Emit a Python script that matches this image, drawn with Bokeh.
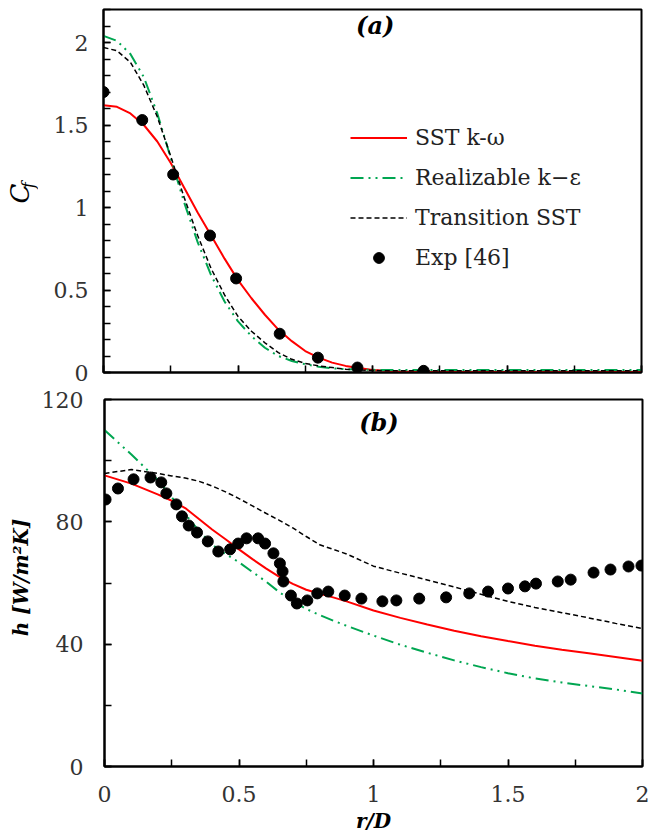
import math
from bokeh.plotting import figure
from bokeh.layouts import column, row
from bokeh.models import Range1d, SingleIntervalTicker, Label, Legend
from bokeh.core.properties import value
from bokeh.embed import file_html
from bokeh.resources import INLINE

# ---------------- data: (a) skin friction ----------------
cf_x = [0, 0.05, 0.1, 0.15, 0.2, 0.25, 0.3, 0.35, 0.4, 0.45, 0.5, 0.55, 0.6,
        0.65, 0.7, 0.75, 0.8, 0.85, 0.9, 1.0, 1.1, 1.2, 1.4, 1.6, 1.8, 2.0]
cf_sst = [1.62, 1.61, 1.57, 1.50, 1.40, 1.27, 1.12, 0.97, 0.83, 0.69, 0.56, 0.45, 0.35,
          0.26, 0.19, 0.13, 0.09, 0.06, 0.04, 0.015, 0.006, 0.003, 0.003, 0.003, 0.003, 0.003]
cf_rke = [2.04, 2.01, 1.93, 1.79, 1.57, 1.30, 1.03, 0.79, 0.59, 0.43, 0.31, 0.22, 0.15,
          0.10, 0.07, 0.05, 0.035, 0.026, 0.02, 0.016, 0.015, 0.015, 0.015, 0.015, 0.015, 0.015]
cf_tsst = [1.97, 1.95, 1.88, 1.74, 1.55, 1.31, 1.06, 0.83, 0.63, 0.47, 0.34, 0.25, 0.18,
           0.12, 0.08, 0.055, 0.04, 0.03, 0.02, 0.012, 0.01, 0.01, 0.01, 0.01, 0.01, 0.01]
cf_exp_x = [0.0, 0.144, 0.259, 0.396, 0.493, 0.655, 0.797, 0.944, 1.19]
cf_exp = [1.70, 1.53, 1.20, 0.83, 0.57, 0.235, 0.09, 0.03, 0.01]

# ---------------- data: (b) heat transfer coefficient ----------------
h_x = [0, 0.1, 0.2, 0.25, 0.3, 0.35, 0.4, 0.45, 0.5, 0.55, 0.6, 0.65, 0.7, 0.75,
       0.8, 0.85, 0.9, 1.0, 1.1, 1.2, 1.3, 1.4, 1.5, 1.6, 1.7, 1.8, 1.9, 2.0]
h_sst = [95.2, 92.5, 88.9, 86.9, 84.5, 81.0, 77.5, 74.3, 71.0, 67.8, 64.8, 62.0, 59.7, 57.8,
         56.5, 55.3, 54.0, 51.0, 48.6, 46.4, 44.4, 42.6, 41.0, 39.5, 38.2, 37.0, 35.8, 34.6]
h_rke = [110.0, 102.0, 93.5, 88.0, 82.5, 77.2, 72.5, 69.5, 66.8, 63.6, 60.5, 57.0, 54.0, 51.5,
         49.5, 47.7, 46.0, 42.8, 39.8, 37.2, 34.7, 32.5, 30.5, 28.8, 27.5, 26.3, 25.2, 23.9]
h_tsst = [95.8, 97.1, 95.8, 95.0, 94.3, 93.3, 91.7, 89.8, 87.6, 85.2, 82.8, 80.5, 78.0, 75.2,
          72.5, 71.0, 69.5, 65.5, 63.2, 61.0, 58.7, 56.3, 54.0, 52.0, 50.3, 48.6, 46.8, 45.1]
h_exp_x = [0.004, 0.05, 0.108, 0.171, 0.211, 0.23, 0.267, 0.288, 0.313, 0.344, 0.384, 0.423,
           0.467, 0.497, 0.528, 0.571, 0.597, 0.628, 0.652, 0.662, 0.665, 0.693, 0.715, 0.754,
           0.791, 0.832, 0.893, 0.955, 1.033, 1.085, 1.17, 1.27, 1.356, 1.426, 1.5, 1.563,
           1.604, 1.685, 1.733, 1.818, 1.881, 1.948, 1.996]
h_exp = [87.3, 90.9, 93.9, 94.5, 92.9, 89.3, 85.7, 81.8, 78.8, 76.5, 73.6, 70.3,
         71.0, 72.9, 74.6, 74.6, 72.9, 69.7, 66.4, 63.8, 60.5, 55.9, 53.3, 54.3,
         56.6, 57.2, 55.9, 54.9, 54.0, 54.3, 54.9, 55.3, 56.6, 57.2, 58.2, 58.9,
         59.8, 60.5, 61.1, 63.4, 64.4, 65.4, 65.7]

series_names = ["SST k-ω", "Realizable k−ε", "Transition SST", "Exp [46]"]
x_label_map = {0: "0", 0.5: "0.5", 1: "1", 1.5: "1.5", 2: "2"}
cf_label_map = {0: "0", 0.5: "0.5", 1: "1", 1.5: "1.5", 2: "2"}

FONT = "DejaVu Serif"
RED = "#ff0000"
GREEN = "#00a651"
TXT = "#333333"
LAB_W = 38
FW = 538


def style(p, y_standoff):
    p.outline_line_color = "black"
    p.outline_line_width = 2
    p.xgrid.visible = False
    p.ygrid.visible = False
    p.background_fill_color = "white"
    p.border_fill_color = "white"
    for ax in (p.xaxis[0], p.yaxis[0]):
        ax.axis_line_width = 2
        ax.axis_line_color = "black"
        ax.major_tick_in = 7
        ax.major_tick_out = 0
        ax.minor_tick_in = 7
        ax.minor_tick_out = 0
        ax.major_tick_line_width = 1.5
        ax.minor_tick_line_width = 1.5
        ax.major_tick_line_color = "black"
        ax.minor_tick_line_color = "black"
        ax.major_label_text_font = FONT
        ax.major_label_text_font_size = "22px"
        ax.major_label_text_color = TXT
    p.yaxis[0].major_label_standoff = y_standoff
    p.xaxis[0].ticker = SingleIntervalTicker(interval=0.5, num_minor_ticks=2)
    p.xaxis[0].major_label_overrides = x_label_map


def label_fig(frame_h, top, bottom, yr):
    f = figure(frame_width=LAB_W, frame_height=frame_h, x_range=Range1d(0, LAB_W), y_range=yr,
               x_axis_location=None, y_axis_location=None, output_backend="svg",
               toolbar_location=None, min_border_left=0, min_border_right=0,
               min_border_top=top, min_border_bottom=bottom)
    f.outline_line_color = None
    f.background_fill_color = "white"
    f.border_fill_color = "white"
    f.grid.visible = False
    return f


# ---------------- panel (a) ----------------
p1 = figure(frame_width=FW, frame_height=363, x_range=Range1d(0, 2), y_range=Range1d(0, 2.2),
            output_backend="svg", toolbar_location=None,
            min_border_left=65, min_border_right=8, min_border_top=9, min_border_bottom=13)
style(p1, 15)
p1.yaxis[0].ticker = SingleIntervalTicker(interval=0.5, num_minor_ticks=5)
p1.yaxis[0].major_label_overrides = cf_label_map
p1.xaxis[0].major_label_text_color = None
p1.xaxis[0].major_label_standoff = 0

a1 = p1.line(cf_x, cf_sst, line_color=RED, line_width=2)
a2 = p1.line(cf_x, cf_rke, line_color=GREEN, line_width=2, line_dash="13 5 2 5 2 5")
a3 = p1.line(cf_x, cf_tsst, line_color="black", line_width=1.5, line_dash="5 3")
a4 = p1.scatter(cf_exp_x, cf_exp, size=11, color="black")

legend = Legend(items=[(series_names[0], [a1]), (series_names[1], [a2]),
                       (series_names[2], [a3]), (series_names[3], [a4])],
                location=(247, 101))
legend.border_line_color = None
legend.background_fill_alpha = 0
legend.padding = 0
legend.margin = 0
legend.spacing = 13
legend.glyph_width = 57
legend.glyph_height = 27
legend.label_height = 27
legend.label_standoff = 8
legend.label_text_font = FONT
legend.label_text_font_size = "22px"
legend.label_text_color = "#222222"
p1.add_layout(legend)

p1.add_layout(Label(x=1.01, y=2.104, text="(a)", text_align="center", text_baseline="middle",
                    text_font=FONT, text_font_style="bold italic", text_font_size="24px",
                    text_color="black"))

lab1 = label_fig(363, 9, 13, Range1d(0, 2.2))
lab1.text(x=[19], y=[1.085], text=["C"], angle=math.pi / 2, text_align=value("center"),
          text_baseline=value("middle"), text_font=value(FONT), text_font_style=value("italic"),
          text_font_size=value("26px"), text_color="black")
lab1.text(x=[28], y=[1.135], text=["f"], angle=math.pi / 2, text_align=value("center"),
          text_baseline=value("middle"), text_font=value(FONT), text_font_style=value("italic"),
          text_font_size=value("16px"), text_color="black")

# ---------------- panel (b) ----------------
p2 = figure(frame_width=FW, frame_height=367, x_range=Range1d(0, 2), y_range=Range1d(0, 120),
            output_backend="svg", toolbar_location=None,
            min_border_left=65, min_border_right=8, min_border_top=14, min_border_bottom=0)
style(p2, 21)
p2.yaxis[0].ticker = SingleIntervalTicker(interval=40, num_minor_ticks=2)
p2.xaxis[0].major_label_standoff = 19
p2.xaxis[0].axis_label = "r/D"
p2.xaxis[0].axis_label_standoff = 4
p2.xaxis[0].axis_label_text_font = FONT
p2.xaxis[0].axis_label_text_font_style = "bold italic"
p2.xaxis[0].axis_label_text_font_size = "20px"
p2.xaxis[0].axis_label_text_color = "black"

p2.line(h_x, h_sst, line_color=RED, line_width=2)
p2.line(h_x, h_rke, line_color=GREEN, line_width=2, line_dash="13 5 2 5 2 5")
p2.line(h_x, h_tsst, line_color="black", line_width=1.5, line_dash="5 3")
p2.scatter(h_exp_x, h_exp, size=11, color="black")

p2.add_layout(Label(x=1.02, y=112.5, text="(b)", text_align="center", text_baseline="middle",
                    text_font=FONT, text_font_style="bold italic", text_font_size="24px",
                    text_color="black"))

lab2 = label_fig(367, 14, 0, Range1d(0, 120))
lab2.text(x=[20], y=[61.8], text=["h [W/m²K]"], angle=math.pi / 2, text_align=value("center"),
          text_baseline=value("middle"), text_font=value(FONT),
          text_font_style=value("bold italic"), text_font_size=value("20px"), text_color="black")

layout = column(row(lab1, p1), row(lab2, p2))
open("out.html", "w").write(file_html(layout, INLINE))
